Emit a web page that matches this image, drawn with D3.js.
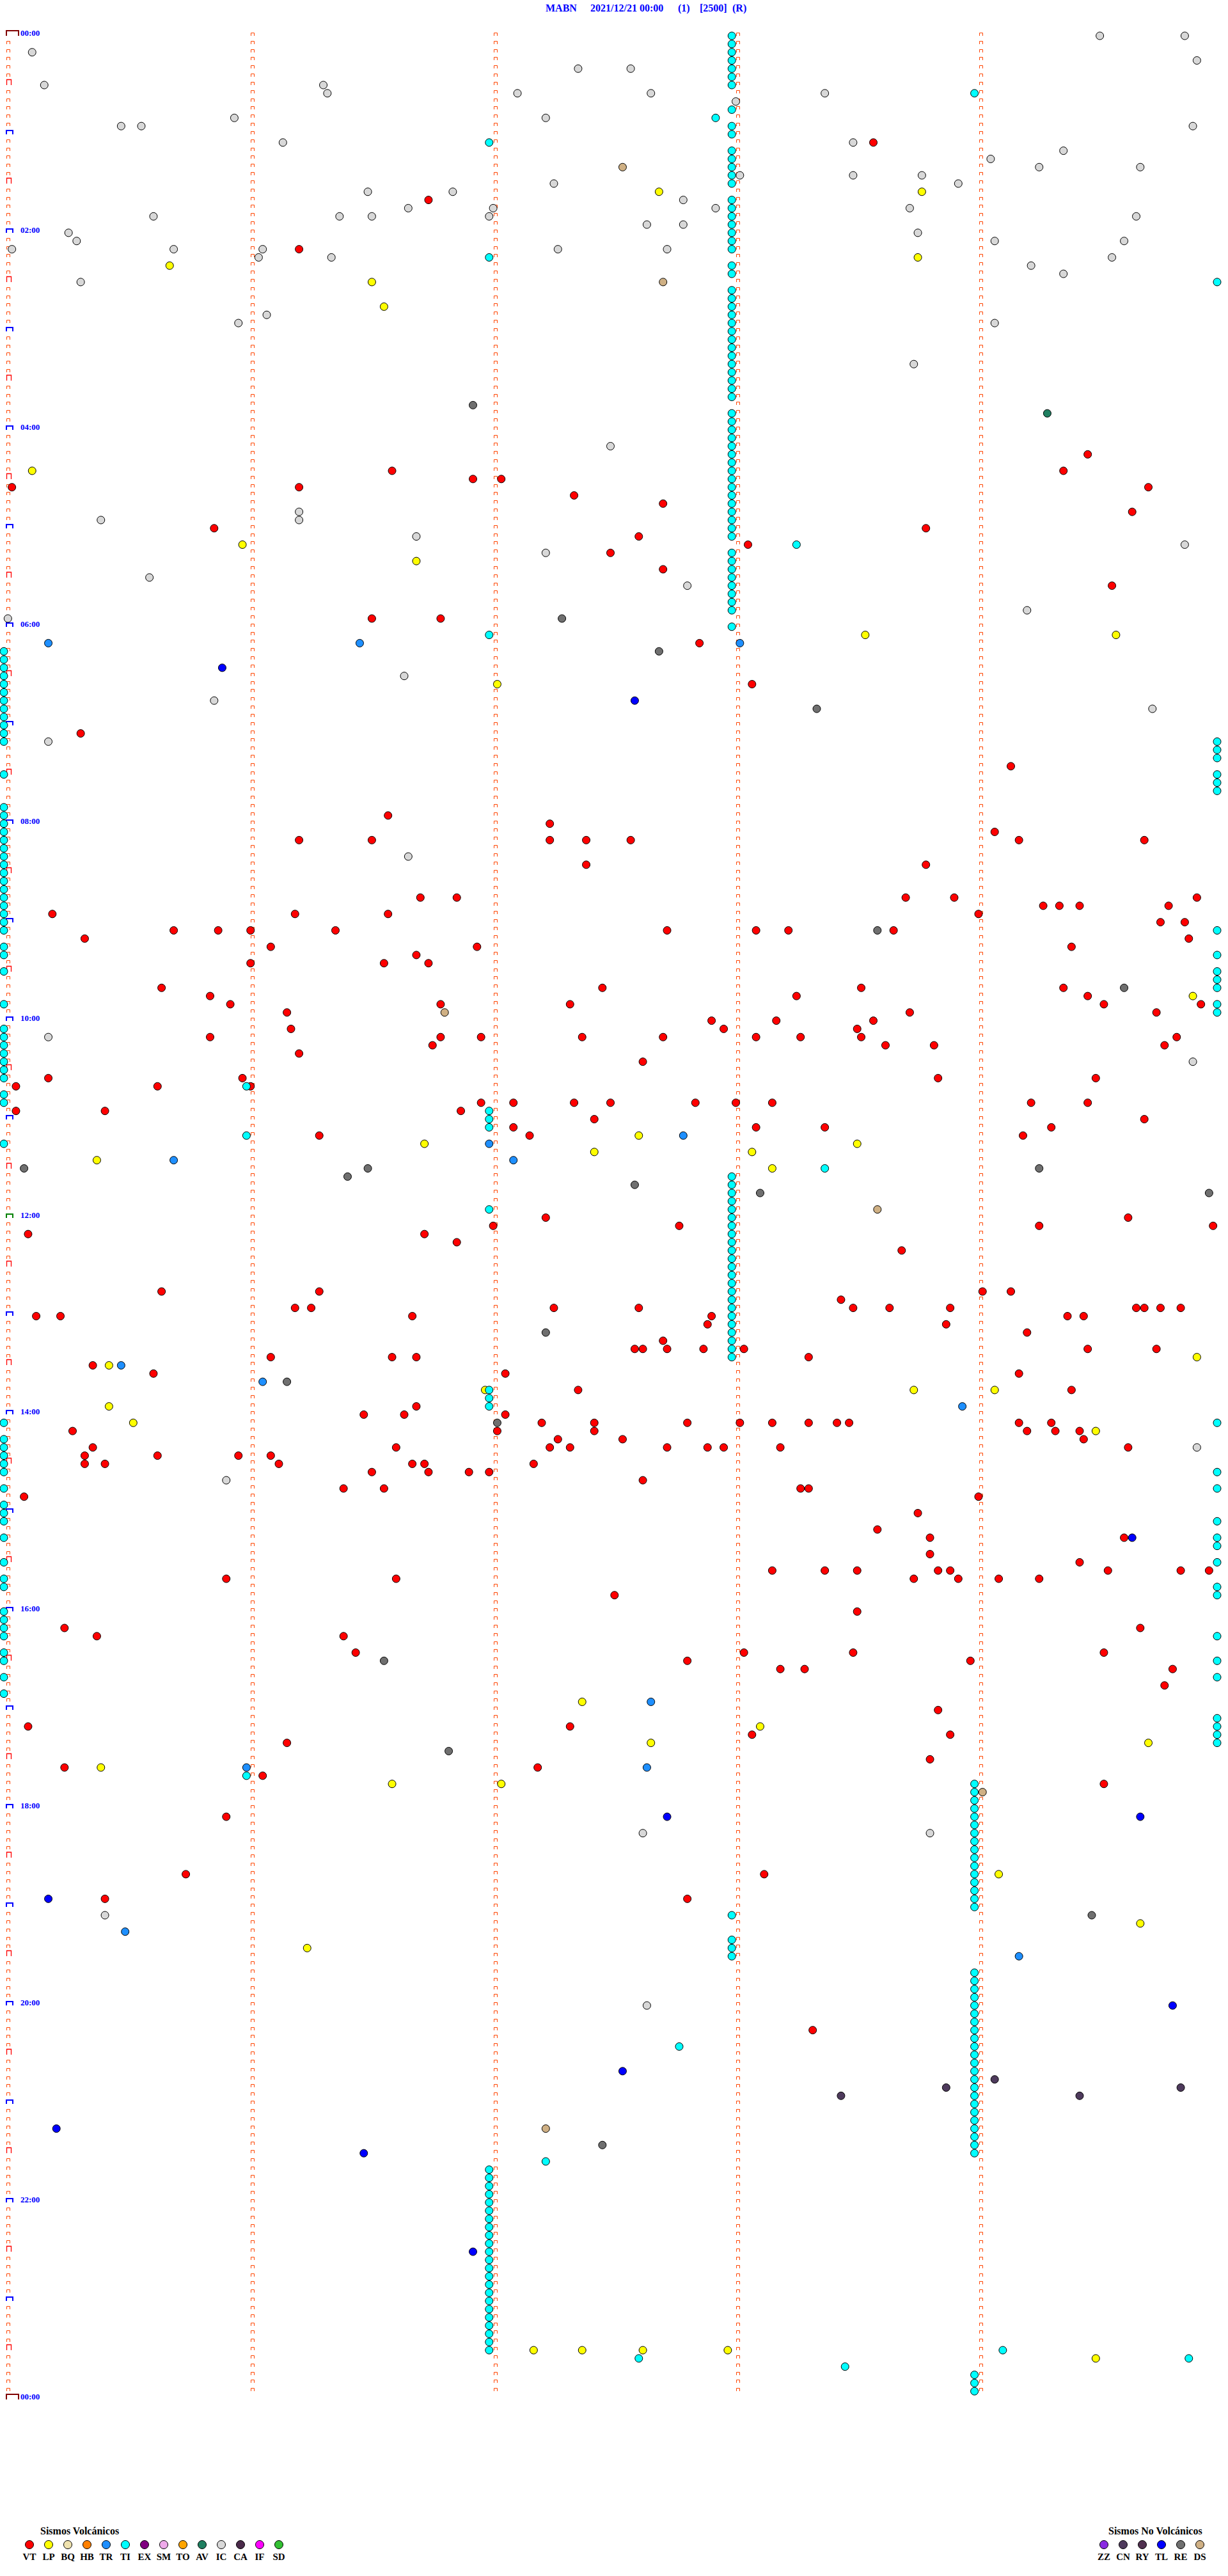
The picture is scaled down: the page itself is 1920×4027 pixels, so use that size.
<!DOCTYPE html>
<html><head><meta charset="utf-8">
<script src="https://cdn.jsdelivr.net/npm/d3@7"></script>
<style>html,body{margin:0;padding:0;background:#fff;}svg{display:block;}</style>
</head><body>
<script>
// ---------- DATA ----------
const titleParts = ["MABN", "2021/12/21 00:00", "(1)", "[2500]", "(R)"];
const hourLabels = ["00:00","02:00","04:00","06:00","08:00","10:00","12:00","14:00","16:00","18:00","20:00","22:00","00:00"];
const minuteTicks = [0, 60, 120, 180, 240];          // seconds into each 5-minute line
const volcanicTypes  = ["VT","LP","BQ","HB","TR","TI","EX","SM","TO","AV","IC","CA","IF","SD"];
const volcanicColors = ["#ff0000","#ffff00","#efe2ae","#ff8000","#1e8fff","#00ffff","#800080","#eeaaea","#ffa500","#1f7f60","#d8d8d8","#4a2a4a","#ff00ff","#33c033"];
const nonVolcanicTypes  = ["ZZ","CN","RY","TL","RE","DS"];
const nonVolcanicColors = ["#8a2be2","#4e3a5c","#50304f","#0000ff","#6f6f6f","#cfb084"];

// events: [line index (each line = 5 minutes), seconds into the line]
const VT = [[13,215],[20,105],[26,73],
[51,268],[53,96],[53,262],[54,116],[54,123],[55,2],[55,73],[55,283],[56,141],[57,163],[58,279],[60,52],[60,228],[61,157],[62,184],[63,150],[65,163],[67,274],[71,91],[71,108],[74,172],[79,185],[85,19],[89,249],[95,95],
[96,135],[97,245],[98,73],[98,91],[98,135],[98,144],[98,155],[98,251],[98,282],[101,144],[101,228],
[105,103],[105,112],[105,223],[105,235],[105,295],[106,257],[106,261],[106,266],[106,288],
[107,12],[107,72],[107,95],[107,241],[108,286],[108,292],
[109,42],[109,53],[109,61],[109,82],[109,164],[109,186],[109,194],[109,220],
[110,20],[110,293],[111,66],[111,117],[111,264],[112,102],[113,61],[113,94],[113,105],
[116,39],[116,148],[116,212],[116,262],[117,51],[117,196],[117,268],
[118,56],[118,108],[118,140],[118,272],[118,296],[119,70],[119,224],[119,285],
[120,175],[120,191],[120,215],[121,71],[121,178],[121,211],
[122,51],[122,108],[122,118],[122,143],[122,163],[122,186],[122,197],[122,212],[122,290],
[123,106],[123,218],[123,230],[123,287],[124,73],[125,158],
[127,11],[127,59],[127,231],[127,270],[128,3],[128,38],[128,61],
[130,118],[130,126],[130,141],[130,150],[130,171],[130,181],[130,190],[130,254],[130,268],
[131,3],[131,25],[131,113],[132,146],[132,282],[133,126],[133,186],[133,203],[133,259],
[134,78],[134,130],[134,252],
[144,134],[144,278],[145,121],[145,167],[145,256],[145,299],[146,6],[146,104],[147,112],[148,222],
[153,39],[153,78],[153,242],[153,249],[154,207],
[155,72],[155,76],[155,136],[155,157],[155,210],[155,219],[155,234],[155,280],[155,282],[155,286],[155,291],
[156,8],[156,14],[156,101],[156,175],[156,263],[156,267],[157,174],[157,233],[158,253],[159,163],
[160,156],[160,158],[160,164],[160,173],[160,183],[160,268],[160,285],
[161,66],[161,96],[161,102],[161,199],[162,22],[163,37],[163,124],[163,251],[165,142],[165,264],[167,102],
[168,89],[168,99],[168,124],
[169,133],[169,146],[169,169],[169,182],[169,190],[169,199],[169,206],[169,209],[169,251],[169,259],
[170,17],[170,122],[170,146],[170,253],[170,260],[170,266],
[171,137],[171,153],[171,267],
[172,22],[172,97],[172,135],[172,140],[172,164],[172,174],[172,178],[172,192],[172,278],
[173,20],[173,38],[173,58],[173,66],
[174,20],[174,25],[174,68],[174,101],[174,104],[174,131],
[175,91],[175,105],[175,115],[175,120],[176,158],[177,84],[177,94],[177,197],[177,199],
[178,5],[178,241],[180,226],[182,216],[183,229],[183,277],[185,229],[186,266],
[187,190],[187,203],[187,211],[187,231],[187,234],[187,273],[187,291],[187,298],
[188,55],[188,97],[188,225],[188,236],[188,246],[188,256],[190,151],[192,211],
[194,15],[194,281],[195,23],[195,84],[197,87],[197,183],[197,210],[197,272],[198,169],[198,239],
[199,192],[199,198],[199,289],[201,287],[204,231],[206,6],[206,140],[207,185],[207,234],[208,70],
[210,229],[211,15],[211,132],[212,64],[213,272],[217,55],[224,45],[224,188],[227,25],[227,169],[243,200]];

const LP = [[19,162],[19,227],[27,226],[28,41],[30,91],[33,94],[53,7],[62,59],[64,102],[73,213],[73,275],[79,122],[117,294],[134,157],[135,104],[135,211],[136,146],[136,185],[137,23],[138,190],[161,295],[162,26],[165,119],[165,225],[165,245],[167,26],[169,32],[170,270],[203,143],[206,187],[208,160],[208,283],[211,24],[213,96],[213,123],[224,246],[230,281],[233,75],[282,131],[282,143],[282,158],[282,179],[283,270]];

const TR = [[74,11],[74,88],[74,182],[134,168],[135,120],[137,42],[137,126],[162,29],[164,64],[167,237],[203,160],[211,60],[211,159],[231,30],[234,251]];

const TI = [
[0,180],[1,180],[2,180],[3,180],[4,180],[5,180],[6,180],[9,180],[10,176],[11,180],[12,180],[14,180],[15,180],[16,180],[17,180],[18,180],
[20,180],[21,180],[22,180],[23,180],[24,180],[25,180],[26,180],[28,180],[29,180],
[31,180],[32,180],[33,180],[34,180],[35,180],[36,180],[37,180],[38,180],[39,180],[40,180],[41,180],[42,180],[43,180],[44,180],
[46,180],[47,180],[48,180],[49,180],[50,180],[51,180],[52,180],[53,180],[54,180],[55,180],[56,180],[57,180],[58,180],[59,180],[60,180],[61,180],
[63,180],[64,180],[65,180],[66,180],[67,180],[68,180],[69,180],[70,180],[72,180],
[139,180],[140,180],[141,180],[142,180],[143,180],[144,180],[145,180],[146,180],[147,180],[148,180],[149,180],[150,180],
[151,180],[152,180],[153,180],[154,180],[155,180],[156,180],[157,180],[158,180],[159,180],[160,180],[161,180],
[229,180],[232,180],[233,180],[234,180],
[75,0],[76,0],[77,0],[78,0],[79,0],[80,0],[81,0],[82,0],[83,0],[84,0],[85,0],[86,0],[90,0],
[94,0],[95,0],[96,0],[97,0],[98,0],[99,0],[100,0],[101,0],[102,0],[103,0],[104,0],[105,0],[106,0],[107,0],[108,0],[109,0],
[111,0],[112,0],[114,0],[118,0],[121,0],[122,0],[123,0],[124,0],[125,0],[126,0],[127,0],[129,0],[130,0],[135,0],
[169,0],[171,0],[172,0],[173,0],[174,0],[175,0],[177,0],[179,0],[180,0],[181,0],[183,0],[186,0],[188,0],[189,0],
[192,0],[193,0],[194,0],[195,0],[197,0],[198,0],[200,0],[202,0],
[128,60],[134,60],[212,60],
[13,120],[27,120],[73,120],[131,120],[132,120],[133,120],[143,120],[165,120],[166,120],[167,120],
[260,120],[261,120],[262,120],[263,120],[264,120],[265,120],[266,120],[267,120],[268,120],[269,120],[270,120],[271,120],
[272,120],[273,120],[274,120],[275,120],[276,120],[277,120],[278,120],[279,120],[280,120],[281,120],[282,120],
[7,240],[213,240],[214,240],[215,240],[216,240],[217,240],[218,240],[219,240],[220,240],[221,240],[222,240],[223,240],
[224,240],[225,240],[226,240],[227,240],[228,240],
[236,240],[237,240],[238,240],[239,240],[240,240],[241,240],[242,240],[243,240],[244,240],[245,240],[246,240],[247,240],
[248,240],[249,240],[250,240],[251,240],[252,240],[253,240],[254,240],[255,240],[256,240],[257,240],[258,240],
[285,240],[286,240],[287,240],
[30,300],[86,300],[87,300],[88,300],[90,300],[91,300],[92,300],[109,300],[112,300],[114,300],[115,300],[116,300],[118,300],[119,300],
[169,300],[175,300],[177,300],[181,300],[183,300],[184,300],[186,300],[189,300],[190,300],[195,300],[198,300],[200,300],
[205,300],[206,300],[207,300],[208,300],
[62,196],[138,203],[245,167],[259,134],[282,247],[283,157],[283,293],[284,208]];

const AV = [[46,258]];

const IC = [[0,271],[0,292],[2,7],[3,295],[4,142],[4,155],[6,10],[6,79],[7,80],[7,127],[7,160],[7,203],[8,181],[10,57],[10,134],[11,29],[11,34],[11,294],[13,69],[13,210],[14,262],[15,244],[16,256],[16,281],[17,182],[17,210],[17,227],[18,136],[18,236],[19,90],[19,111],[20,168],[21,100],[21,121],[21,176],[21,224],[22,37],[22,83],[22,91],[22,120],[22,280],[23,159],[23,168],[24,16],[24,226],[25,18],[25,245],[25,277],[26,2],[26,42],[26,64],[26,137],[26,164],[27,63],[27,81],[27,274],[28,254],[29,262],[30,19],[34,65],[35,58],[35,245],[40,225],[50,150],[58,73],[59,24],[59,73],[61,102],[62,292],[63,134],[66,36],[67,169],[70,253],[71,1],[78,99],[81,52],[82,284],[86,11],[100,100],[122,11],[125,294],[172,295],[176,55],[219,158],[219,229],[229,25],[240,159]];

const CN = [[249,245],[250,233],[250,291],[251,207],[251,266]];
const TL = [[77,54],[81,156],[183,279],[217,164],[217,281],[227,11],[240,289],[248,153],[255,13],[258,89],[270,116]];
const RE = [[45,116],[71,138],[75,162],[82,201],[109,216],[116,277],[138,5],[138,90],[138,256],[139,85],[140,156],[141,187],[141,298],[158,134],[164,70],[169,122],[198,94],[209,110],[229,269],[257,148]];
const DS = [[16,153],[30,163],[119,109],[143,216],[214,242],[255,134]];

// ---------- DRAW ----------
const W = 1920, H = 4027, LINES = 288;
const colorOf = {};
volcanicTypes.forEach((t,i)=>colorOf[t]=volcanicColors[i]);
nonVolcanicTypes.forEach((t,i)=>colorOf[t]=nonVolcanicColors[i]);

const x = d3.scaleLinear().domain([0,300]).range([6,1903]);
const y = d3.scaleLinear().domain([0,LINES]).range([56,3751]);
const FONT = "'Liberation Serif','Times New Roman',serif";

const svg = d3.select("body").append("svg").attr("width",W).attr("height",H)
  .style("background","#fff");

// title
const titleX = [853, 923, 1060, 1094, 1145];
svg.append("g").selectAll("text").data(titleParts).join("text")
  .attr("x",(d,i)=>titleX[i]).attr("y",18)
  .attr("font-family",FONT).attr("font-size",16).attr("font-weight","bold")
  .attr("fill","#0000ff").text(d=>d);

// minute markers
const mk = svg.append("g").attr("fill","none");
minuteTicks.forEach((sec,mi)=>{
  const x0 = Math.round(x(sec)) + (mi===0 ? 4 : 7);
  const rows = d3.range(mi===0 ? LINES+1 : LINES);
  rows.forEach(r=>{
    const yb = Math.round(y(r));
    if (mi===0 && (r===0 || r===LINES)) {
      mk.append("path").attr("d",`M10,${yb} V${yb-8} H29 V${yb}`)
        .attr("stroke","#800000").attr("stroke-width",2);
    } else if (mi===0 && r%12===0) {
      mk.append("path").attr("d",`M10,${yb} V${yb-6} H20 V${yb}`)
        .attr("stroke", r===144 ? "#008000" : "#0000ff").attr("stroke-width",2);
    } else if (mi===0 && r%12===6) {
      mk.append("path").attr("d",`M10.5,${yb} V${yb-8.5} H17.5 V${yb}`)
        .attr("stroke","#ff0000").attr("stroke-width",1.3);
    } else {
      mk.append("path").attr("d",`M${x0+0.5},${yb} V${yb-4.5} H${x0+5.5} V${yb}`)
        .attr("stroke","#ff4500").attr("stroke-width",1);
    }
  });
});

// hour labels
svg.append("g").selectAll("text").data(hourLabels).join("text")
  .attr("x",32).attr("y",(d,i)=>Math.round(y(i*24)))
  .attr("font-family",FONT).attr("font-size",13).attr("font-weight","bold")
  .attr("fill","#0000ff").text(d=>d);

// events
const series = [["IC",IC],["DS",DS],["RE",RE],["AV",AV],["CN",CN],["TL",TL],["TR",TR],["LP",LP],["VT",VT],["TI",TI]];
const ev = svg.append("g");
series.forEach(([name,data])=>{
  ev.append("g").selectAll("circle").data(data).join("circle")
    .attr("cx",d=>x(d[1])).attr("cy",d=>y(d[0])).attr("r",6)
    .attr("fill",colorOf[name]).attr("stroke","#000").attr("stroke-width",1);
});

// legends
function legend(title, types, colors, tx, cx0){
  const g = svg.append("g");
  g.append("text").attr("x",tx).attr("y",3962)
    .attr("font-family",FONT).attr("font-size",16).attr("font-weight","bold")
    .attr("fill","#000").text(title);
  const lx = d3.scalePoint().domain(types).range([cx0, cx0+30*(types.length-1)]);
  g.selectAll("circle").data(types).join("circle")
    .attr("cx",d=>lx(d)).attr("cy",3978).attr("r",6.5)
    .attr("fill",(d,i)=>colors[i]).attr("stroke","#000").attr("stroke-width",1);
  g.selectAll("text.lab").data(types).join("text").attr("class","lab")
    .attr("x",d=>lx(d)).attr("y",4002).attr("text-anchor","middle")
    .attr("font-family",FONT).attr("font-size",15).attr("font-weight","bold")
    .attr("fill","#000").text(d=>d);
}
legend("Sismos Volcánicos", volcanicTypes, volcanicColors, 63, 46);
legend("Sismos No Volcánicos", nonVolcanicTypes, nonVolcanicColors, 1733, 1726);
</script>
</body></html>
